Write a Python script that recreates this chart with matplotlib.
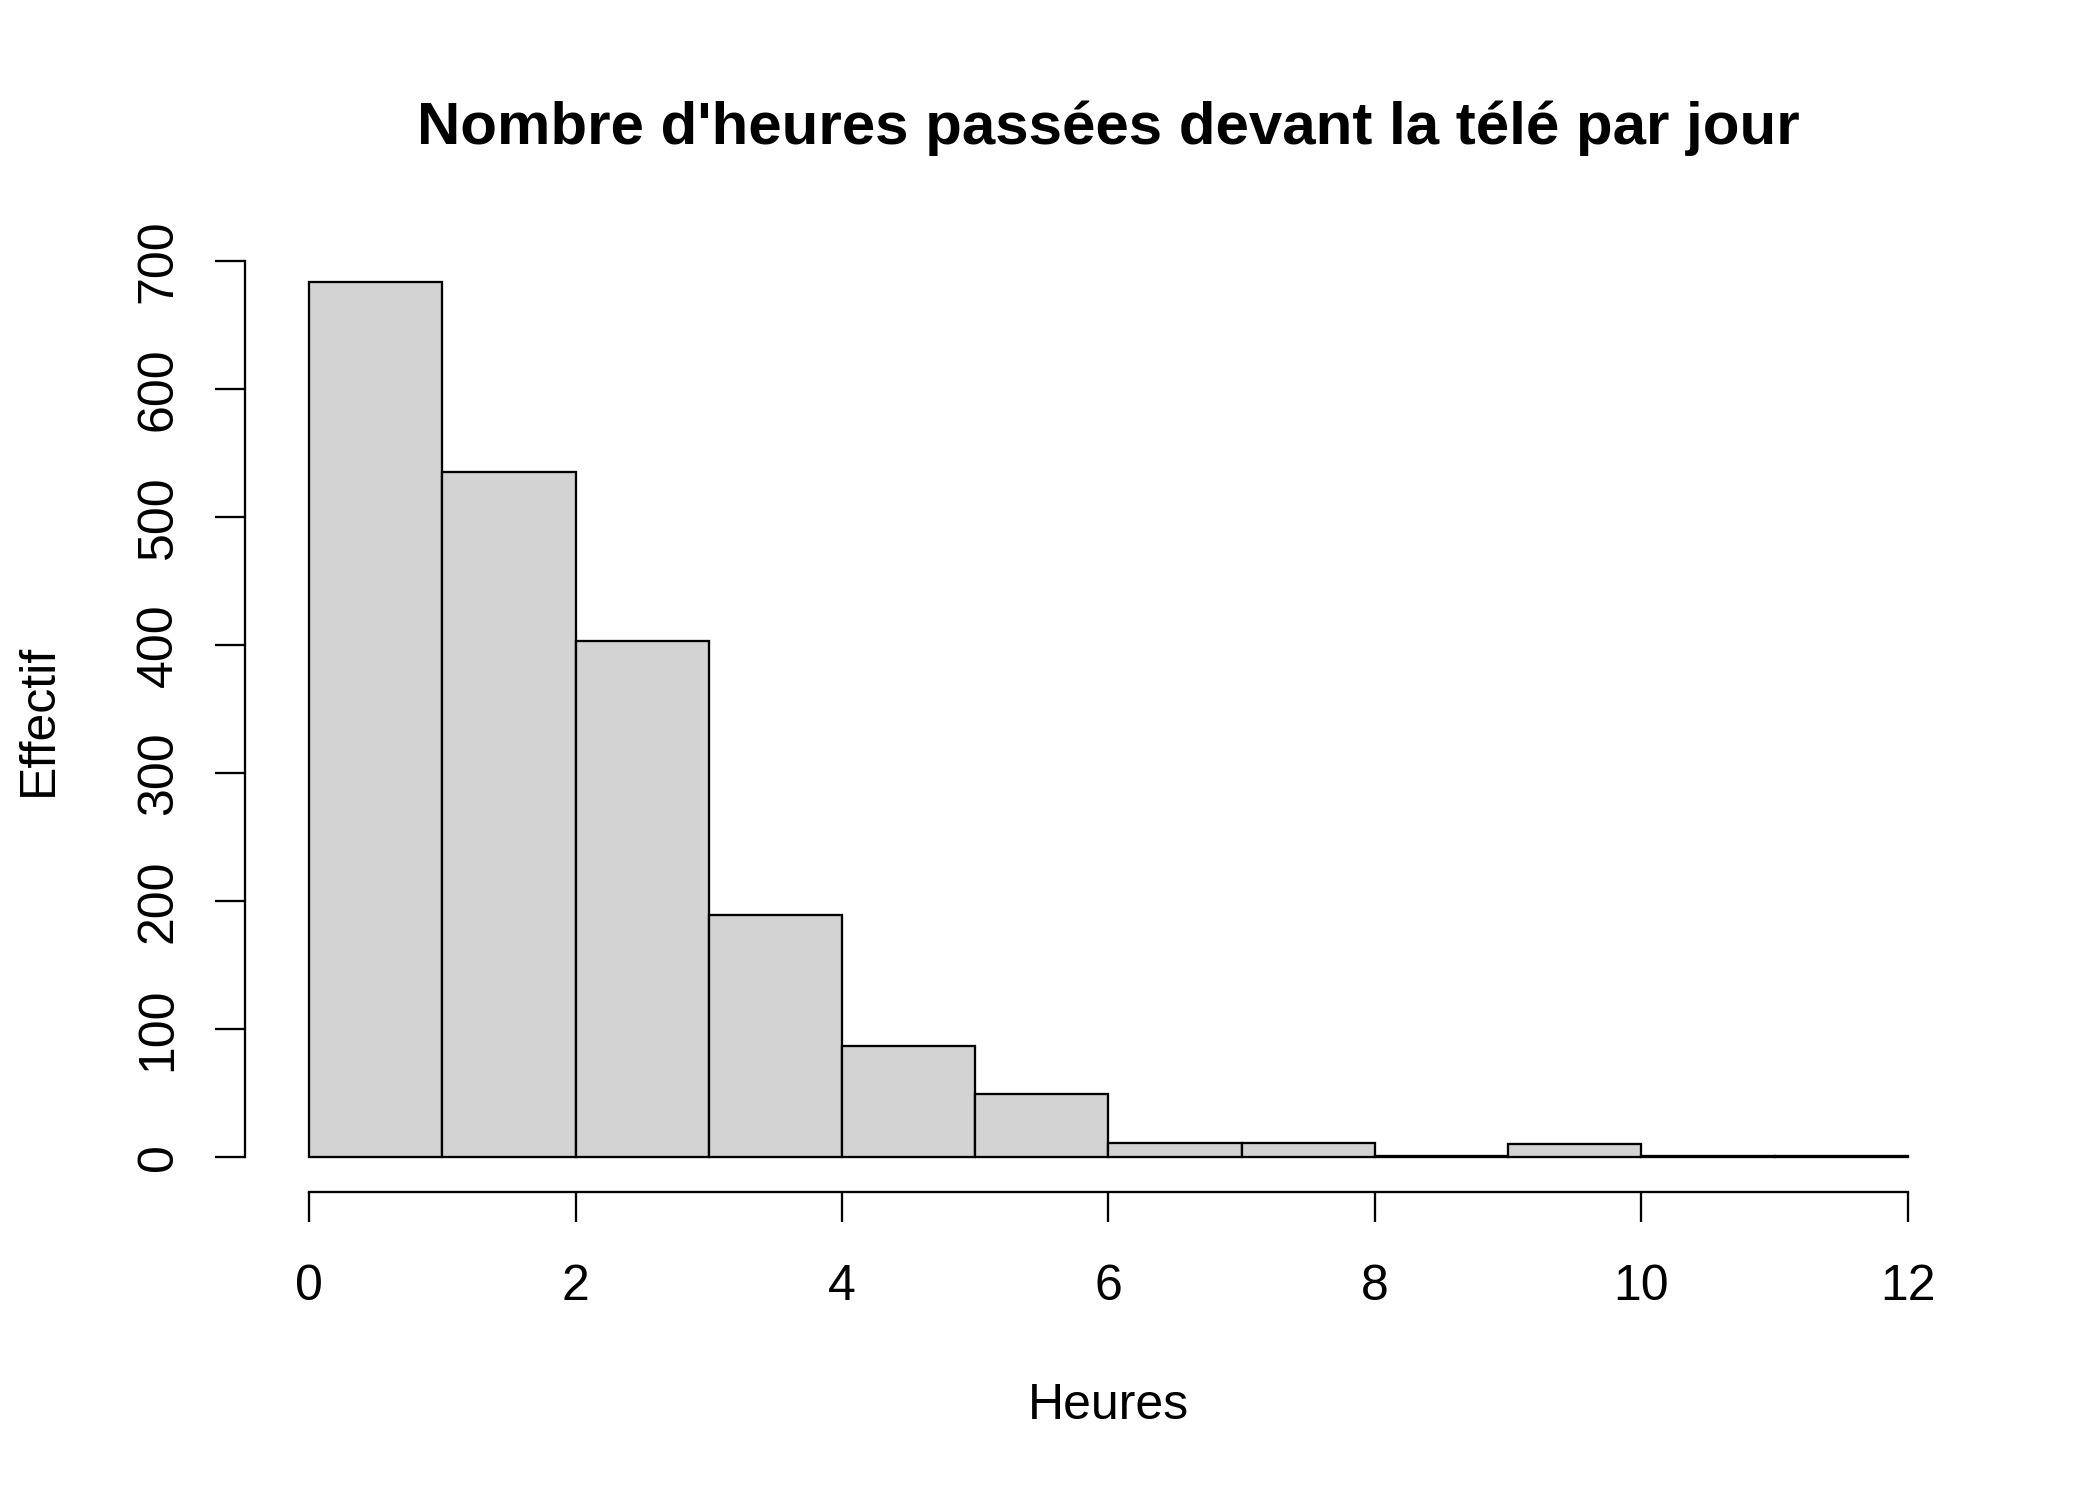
import numpy as np
import matplotlib
matplotlib.use('Agg')
import matplotlib.pyplot as plt

# Histogramme : heures de télé par jour
bin_edges = [0, 1, 2, 3, 4, 5, 6, 7, 8, 9, 10, 11, 12]
counts = [683, 535, 403, 189, 87, 49, 11, 11, 1, 10, 1, 1]
x_ticks = [0, 2, 4, 6, 8, 10, 12]
y_ticks = [0, 100, 200, 300, 400, 500, 600, 700]

plt.rcParams['font.family'] = ['Liberation Sans', 'DejaVu Sans']

fig = plt.figure(figsize=(7, 5), dpi=300)
ax = fig.add_axes([0.1167, 0.2053, 0.939 - 0.1167, 0.835 - 0.2053])

lw = 0.55
ax.bar(bin_edges[:-1], counts, width=np.diff(bin_edges), align='edge',
       color='#d3d3d3', edgecolor='black', linewidth=lw)

ax.set_xlim(-0.48, 12.48)
ax.set_ylim(-27.32, 710.32)

for s in ['top', 'right']:
    ax.spines[s].set_visible(False)
ax.spines['left'].set_bounds(0, 700)
ax.spines['bottom'].set_bounds(0, 12)
ax.spines['left'].set_linewidth(lw)
ax.spines['bottom'].set_linewidth(lw)

ax.set_xticks(x_ticks)
ax.set_yticks(y_ticks)
ax.set_yticklabels([str(v) for v in y_ticks], rotation=90, va='center')
ax.tick_params(axis='both', labelsize=12, length=7.2, width=lw, direction='out')
ax.tick_params(axis='x', pad=10)
ax.tick_params(axis='y', pad=8)

fig.text(0.5 * (0.1167 + 0.939), 1 - 128 / 1500,
         "Nombre d'heures passées devant la télé par jour",
         ha='center', va='center', fontsize=14.4, fontweight='bold')
fig.text(0.5 * (0.1167 + 0.939), 1 - 1406 / 1500, 'Heures',
         ha='center', va='center', fontsize=12)
fig.text(39 / 2100, 0.5 * (0.2053 + 0.835), 'Effectif',
         ha='center', va='center', rotation=90, fontsize=12)

fig.savefig('out.png', dpi=300)
